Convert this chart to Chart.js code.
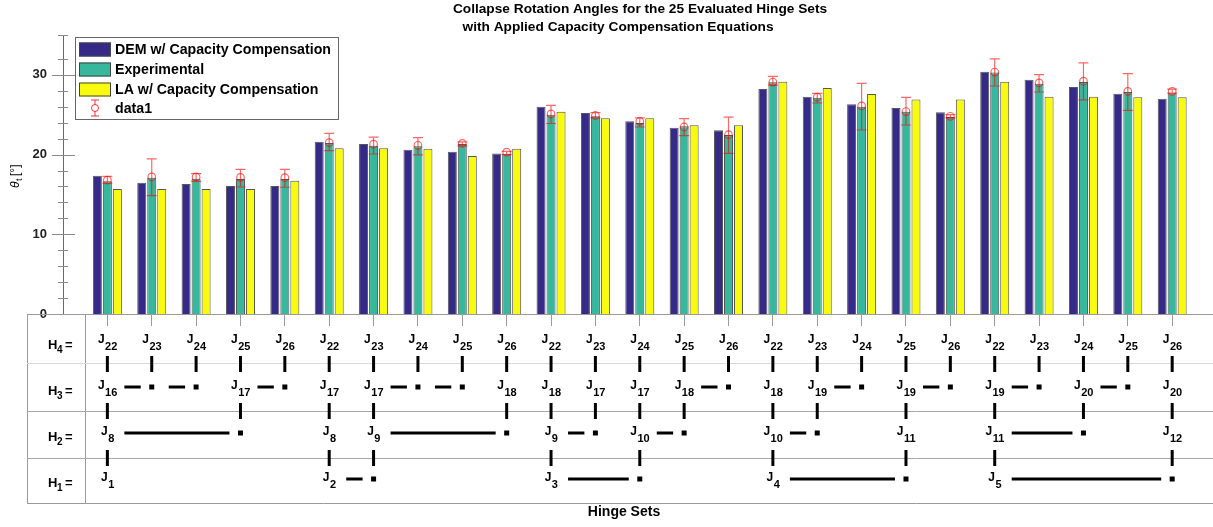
<!DOCTYPE html>
<html lang="en">
<head>
<meta charset="UTF-8">
<title>Collapse Rotation Angles - Hinge Sets</title>
<script src="https://cdn.jsdelivr.net/npm/chart.js"></script>
<style>
  body { margin: 0; background: #fff; }
  #wrap { width: 1213px; height: 527px; position: relative; }
</style>
</head>
<body>
<div id="wrap"><canvas id="grafico"></canvas></div>
<script>
// hinge set number (x position of each group)
const sets = [1, 2, 3, 4, 5, 6, 7, 8, 9, 10, 11, 12, 13, 14, 15, 16, 17, 18, 19, 20, 21, 22, 23, 24, 25];

// collapse rotation angle theta_t [deg]
const demVals = [17.35, 16.47, 16.31, 16.06, 16.06, 21.62, 21.33, 20.62, 20.36, 20.15, 26.0, 25.22, 24.17, 23.38, 23.04, 28.23, 27.26, 26.3, 25.85, 25.3, 30.4, 29.4, 28.48, 27.64, 27.0];
const expVals = [16.64, 17.1, 16.98, 16.94, 16.94, 21.45, 21.1, 21.03, 21.33, 20.11, 25.0, 24.8, 23.96, 23.54, 22.46, 29.06, 27.14, 26.0, 25.38, 24.72, 30.3, 28.9, 29.1, 27.85, 27.7];
const laVals = [15.68, 15.68, 15.68, 15.68, 16.72, 20.78, 20.78, 20.74, 19.82, 20.74, 25.38, 24.55, 24.55, 23.67, 23.67, 29.15, 28.35, 27.6, 26.9, 26.9, 29.15, 27.26, 27.26, 27.2, 27.2];

// experimental scatter (data1): mean and min/max
const errMid = [16.8, 17.19, 17.2, 17.14, 17.1, 21.5, 21.3, 21.16, 21.4, 20.3, 25.1, 24.9, 24.17, 23.46, 22.5, 29.1, 27.2, 26.1, 25.4, 24.8, 30.35, 29.0, 29.2, 27.93, 27.93];
const errLow = [16.4, 14.84, 16.64, 15.93, 15.9, 20.49, 20.07, 19.95, 21.1, 20.0, 23.9, 24.6, 23.46, 22.37, 20.15, 28.7, 26.47, 23.08, 23.71, 24.6, 28.6, 27.85, 26.85, 25.55, 27.7];
const errHigh = [17.27, 19.45, 17.6, 18.14, 18.14, 22.66, 22.2, 22.12, 21.6, 20.4, 26.17, 25.25, 24.6, 24.5, 24.7, 29.8, 27.68, 28.93, 27.18, 25.0, 32.0, 30.03, 31.5, 30.15, 28.2];

const yTicks = [0, 10, 20, 30];

// hinge table: subscript of J for a node, '.' for a plain node, '' for empty
const rowH4 = ['22', '23', '24', '25', '26', '22', '23', '24', '25', '26', '22', '23', '24', '25', '26', '22', '23', '24', '25', '26', '22', '23', '24', '25', '26'];
const rowH3 = ['16', '.', '.', '17', '.', '17', '17', '.', '.', '18', '18', '17', '17', '18', '.', '18', '19', '.', '19', '.', '19', '.', '20', '.', '20'];
const rowH2 = ['8', '', '', '.', '', '8', '9', '', '', '.', '9', '.', '10', '.', '', '10', '.', '', '11', '', '11', '', '.', '', '12'];
const rowH1 = ['1', '', '', '', '', '2', '.', '', '', '', '3', '', '.', '', '', '4', '', '', '.', '', '5', '', '', '', '.'];
// horizontal links inside a row, [from set, to set]
const linksH3 = [[1, 2], [2, 3], [4, 5], [7, 8], [8, 9], [14, 15], [17, 18], [19, 20], [21, 22], [23, 24]];
const linksH2 = [[1, 4], [7, 10], [11, 12], [13, 14], [16, 17], [21, 23]];
const linksH1 = [[6, 7], [11, 13], [16, 19], [21, 25]];

const FONT = '"Liberation Sans", Arial, sans-serif';

const toXY = vals => vals.map((v, i) => ({ x: sets[i], y: v }));

// red error bars with circle markers on the experimental bars
const errorBars = {
  id: 'errorBars',
  afterDatasetsDraw(chart) {
    const ctx = chart.ctx, ys = chart.scales.y;
    const meta = chart.getDatasetMeta(1);
    ctx.save();
    ctx.strokeStyle = 'rgba(255,0,0,0.6)';
    ctx.lineWidth = 1.2;
    meta.data.forEach((bar, i) => {
      const x = bar.x;
      const yl = ys.getPixelForValue(errLow[i]);
      const yh = ys.getPixelForValue(errHigh[i]);
      const ym = ys.getPixelForValue(errMid[i]);
      ctx.beginPath();
      ctx.moveTo(x, yl); ctx.lineTo(x, yh);
      ctx.moveTo(x - 5, yl); ctx.lineTo(x + 5, yl);
      ctx.moveTo(x - 5, yh); ctx.lineTo(x + 5, yh);
      ctx.stroke();
      ctx.beginPath();
      ctx.arc(x, ym, 3.8, 0, Math.PI * 2);
      ctx.stroke();
    });
    ctx.restore();
  }
};

function drawJ(ctx, x, y, sub) {
  ctx.font = 'bold 12px ' + FONT;
  const wJ = ctx.measureText('J').width;
  ctx.font = 'bold 11px ' + FONT;
  const wS = ctx.measureText(sub).width;
  const x0 = x - (wJ + wS) / 2;
  ctx.textAlign = 'left';
  ctx.textBaseline = 'alphabetic';
  ctx.font = 'bold 12px ' + FONT;
  ctx.fillText('J', x0, y + 3);
  ctx.font = 'bold 11px ' + FONT;
  ctx.fillText(sub, x0 + wJ + 0.5, y + 10);
}

// axes decorations, title, legend and the hinge-set table
const decorations = {
  id: 'decorations',
  afterDraw(chart) {
    const ctx = chart.ctx, xs = chart.scales.x, ys = chart.scales.y;
    const area = chart.chartArea;
    ctx.save();

    // y ticks on both sides of the axis
    ctx.strokeStyle = '#8a8a8a';
    ctx.lineWidth = 1;
    ys.ticks.forEach(t => {
      const y = Math.round(ys.getPixelForValue(t.value)) + 0.5;
      const major = yTicks.includes(t.value);
      ctx.beginPath();
      ctx.moveTo(area.left - (major ? 11 : 5), y);
      ctx.lineTo(area.left + (major ? 12 : 5), y);
      ctx.stroke();
    });

    // title
    ctx.fillStyle = '#000';
    ctx.textBaseline = 'middle';
    ctx.textAlign = 'center';
    ctx.font = 'bold 13.7px ' + FONT;
    ctx.fillText('Collapse Rotation Angles for the 25 Evaluated Hinge Sets', 640, 9);
    ctx.fillText('with Applied Capacity Compensation Equations', 618, 27);

    // y label
    ctx.save();
    ctx.translate(16, 176);
    ctx.rotate(-Math.PI / 2);
    ctx.textAlign = 'left';
    ctx.font = 'italic 12px ' + FONT;
    ctx.fillText('\u03b8', -12, 0);
    ctx.font = '9px ' + FONT;
    ctx.fillText('t', -5, 4);
    ctx.font = '12px ' + FONT;
    ctx.fillText('[\u00b0]', 0, 0);
    ctx.restore();

    // legend box
    ctx.fillStyle = '#fff';
    ctx.fillRect(75, 37, 263, 82);
    ctx.strokeStyle = '#666';
    ctx.strokeRect(75.5, 37.5, 263, 82);
    const items = chart.data.datasets;
    const rows = [49.5, 69.5, 89.5];
    items.forEach((ds, i) => {
      ctx.fillStyle = ds.backgroundColor;
      ctx.fillRect(79, rows[i] - 7, 32, 14);
      ctx.strokeStyle = '#444';
      ctx.strokeRect(79.5, rows[i] - 6.5, 31, 13);
      ctx.fillStyle = '#000';
      ctx.textAlign = 'left';
      ctx.font = 'bold 14.2px ' + FONT;
      ctx.fillText(ds.label, 115, rows[i] + 1);
    });
    ctx.strokeStyle = 'rgba(255,0,0,0.8)';
    ctx.beginPath();
    ctx.moveTo(95, 100); ctx.lineTo(95, 116);
    ctx.moveTo(91, 100); ctx.lineTo(99, 100);
    ctx.moveTo(91, 116); ctx.lineTo(99, 116);
    ctx.stroke();
    ctx.beginPath();
    ctx.arc(95, 108, 3.5, 0, Math.PI * 2);
    ctx.fillStyle = '#fff';
    ctx.fill();
    ctx.stroke();
    ctx.fillStyle = '#000';
    ctx.fillText('data1', 115, 109);

    // hinge-set table frame
    const top = area.bottom, bot = 503, left = 27, split = 85;
    const lines = [363, 411, 458];
    ctx.strokeStyle = '#9a9a9a';
    ctx.lineWidth = 1;
    ctx.beginPath();
    ctx.moveTo(left, top + 0.5); ctx.lineTo(chart.width, top + 0.5);
    ctx.moveTo(left, bot + 0.5); ctx.lineTo(chart.width, bot + 0.5);
    ctx.moveTo(left + 0.5, top); ctx.lineTo(left + 0.5, bot);
    ctx.moveTo(split + 0.5, top); ctx.lineTo(split + 0.5, bot);
    ctx.stroke();
    lines.forEach((y, k) => {
      ctx.strokeStyle = k === 0 ? '#d8d8d8' : '#a8a8a8';
      ctx.beginPath();
      ctx.moveTo(left, y + 0.5); ctx.lineTo(chart.width, y + 0.5);
      ctx.stroke();
    });

    // row labels
    const rowY = [341, 387, 433, 479];
    ['4', '3', '2', '1'].forEach((n, k) => {
      const y = rowY[k];
      ctx.fillStyle = '#000';
      ctx.textAlign = 'left';
      ctx.font = 'bold 13px ' + FONT;
      ctx.fillText('H', 48, y + 4);
      ctx.font = 'bold 10px ' + FONT;
      ctx.fillText(n, 57, y + 9);
      ctx.font = 'bold 13px ' + FONT;
      ctx.fillText('=', 65, y + 4);
    });

    // nodes, links and connectors
    const rows2 = [rowH4, rowH3, rowH2, rowH1];
    const links = [[], linksH3, linksH2, linksH1];
    ctx.fillStyle = '#000';
    ctx.strokeStyle = '#000';
    ctx.lineWidth = 3;
    rows2.forEach((row, k) => {
      const y = rowY[k];
      row.forEach((v, i) => {
        if (!v) return;
        const x = xs.getPixelForValue(sets[i]);
        if (v === '.') {
          ctx.fillRect(x - 2.5, y - 2.5, 5, 5);
        } else {
          drawJ(ctx, x, y - 1, v);
        }
        if (k > 0) {
          const yPrev = rowY[k - 1];
          ctx.beginPath();
          ctx.moveTo(x, yPrev + 15 + (k - 1));
          ctx.lineTo(x, yPrev + 31 + (k - 1));
          ctx.stroke();
        }
      });
      links[k].forEach(([a, b]) => {
        const xa = xs.getPixelForValue(a), xb = xs.getPixelForValue(b);
        ctx.beginPath();
        ctx.moveTo(xa + 17, y);
        ctx.lineTo(xb - 11, y);
        ctx.stroke();
      });
    });

    // x label
    ctx.fillStyle = '#000';
    ctx.textAlign = 'center';
    ctx.font = 'bold 14px ' + FONT;
    ctx.fillText('Hinge Sets', 624, 516);
    ctx.restore();
  }
};

new Chart(document.getElementById('grafico'), {
  type: 'bar',
  data: {
    datasets: [
      {
        label: 'DEM w/ Capacity Compensation',
        data: toXY(demVals),
        backgroundColor: 'rgb(53,42,135)',
        borderColor: 'rgba(30,30,30,0.75)',
        borderWidth: 1
      },
      {
        label: 'Experimental',
        data: toXY(expVals),
        backgroundColor: 'rgb(55,184,157)',
        borderColor: 'rgba(30,30,30,0.75)',
        borderWidth: 1
      },
      {
        label: 'LA w/ Capacity Compensation',
        data: toXY(laVals),
        backgroundColor: 'rgb(249,251,14)',
        borderColor: 'rgba(30,30,30,0.75)',
        borderWidth: 1
      }
    ]
  },
  options: {
    responsive: true,
    maintainAspectRatio: false,
    animation: false,
    categoryPercentage: 0.676,
    barPercentage: 0.9,
    layout: { padding: { top: 35, right: 0, left: 0, bottom: 0 } },
    plugins: {
      legend: { display: false },
      title: { display: false },
      tooltip: { enabled: false }
    },
    scales: {
      x: {
        type: 'linear',
        offset: false,
        min: 0,
        max: 25.92,
        afterFit: s => { s.height = 213; },
        border: { display: true, color: '#9a9a9a' },
        grid: {
          offset: false,
          drawOnChartArea: false,
          drawTicks: true,
          tickLength: 12,
          color: c => (c.tick && c.tick.value === 0 ? 'rgba(0,0,0,0)' : '#9a9a9a')
        },
        ticks: { stepSize: 1, autoSkip: false, includeBounds: false, callback: () => '' }
      },
      y: {
        min: 0,
        max: 35,
        afterFit: s => { s.width = 63; },
        border: { display: true, color: '#6a6a6a' },
        grid: { display: false, drawTicks: false },
        ticks: {
          stepSize: 2,
          autoSkip: false,
          padding: 16,
          color: '#222',
          font: { family: FONT, size: 13, weight: 'bold' },
          callback: v => (yTicks.includes(v) ? v : '')
        }
      }
    }
  },
  plugins: [errorBars, decorations]
});
</script>
</body>
</html>
